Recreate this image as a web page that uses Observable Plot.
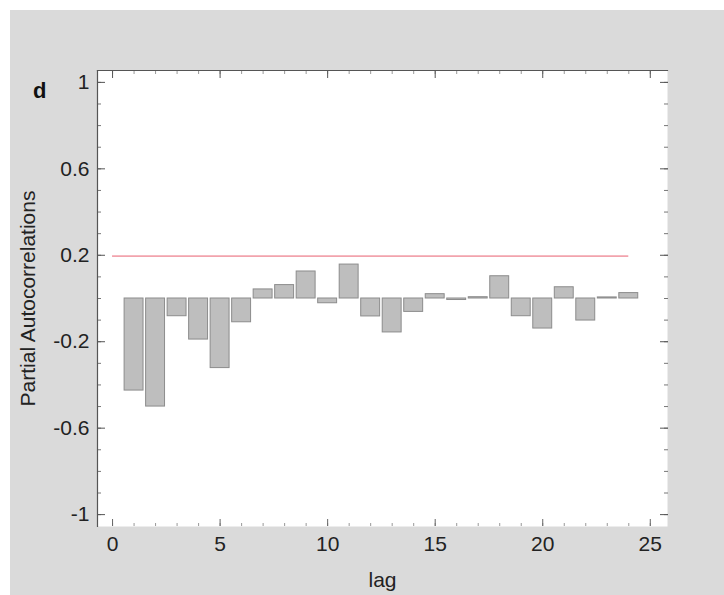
<!DOCTYPE html>
<html>
<head>
<meta charset="utf-8">
<script src="https://cdn.jsdelivr.net/npm/d3@7"></script>
<script src="https://cdn.jsdelivr.net/npm/@observablehq/plot@0.6"></script>
<style>
  html, body { margin: 0; padding: 0; background: #ffffff; }
  #wrap { position: absolute; left: 10px; top: 10px; width: 714px; height: 585px; background: #dadada; }
  #panel { position: absolute; left: 23px; top: 70px; font: bold 22px "Liberation Sans", Arial, sans-serif; color: #111; line-height: 1; }
</style>
</head>
<body>
<div id="wrap"><div id="panel">d</div></div>
<script>
// Data
const lags = [1, 2, 3, 4, 5, 6, 7, 8, 9, 10, 11, 12, 13, 14, 15, 16, 17, 18, 19, 20, 21, 22, 23, 24];
const pacf = [-0.426, -0.50, -0.082, -0.19, -0.322, -0.11, 0.042, 0.062, 0.125, -0.022, 0.157, -0.083,
              -0.157, -0.062, 0.02, -0.007, 0.006, 0.103, -0.082, -0.139, 0.052, -0.102, 0.005, 0.025];
const ciLevel = 0.196;
const ciFromLag = 0;
const ciToLag = 24;
const xTicks = [0, 5, 10, 15, 20, 25];
const yTicks = [-1, -0.6, -0.2, 0.2, 0.6, 1];
const yMinorTicks = d3.range(-10, 11).map(i => i / 10);
const xMinorTicks = d3.range(0, 26);

const data = lags.map((lag, i) => ({lag, value: pacf[i]}));
const halfWidth = 0.44;

const chart = Plot.plot({
  width: 714,
  height: 585,
  marginLeft: 87,
  marginRight: 57,
  marginTop: 60,
  marginBottom: 69,
  style: {background: "transparent", fontFamily: "'Liberation Sans', Arial, sans-serif", fontSize: "21px", color: "#222"},
  x: {domain: [-0.7, 25.8]},
  y: {domain: [-1.055, 1.055]},
  marks: [
    Plot.frame({fill: "white", stroke: "none"}),
    Plot.rect(data, {
      x1: d => d.lag - halfWidth,
      x2: d => d.lag + halfWidth,
      y1: 0,
      y2: "value",
      fill: "#bebebe",
      stroke: "#8c8c8c",
      strokeWidth: 1
    }),
    Plot.ruleY([ciLevel], {x1: ciFromLag, x2: ciToLag, stroke: "#f2a3ad", strokeWidth: 1.6}),
    // inward minor ticks
    Plot.axisY(yMinorTicks, {anchor: "left", tickSize: -4, fill: "none", label: null, stroke: "#777"}),
    Plot.axisY(yMinorTicks, {anchor: "right", tickSize: -4, fill: "none", label: null, stroke: "#777"}),
    Plot.axisY(yTicks, {anchor: "left", tickSize: -8, fill: "none", label: null, stroke: "#555"}),
    Plot.axisY(yTicks, {anchor: "right", tickSize: -8, fill: "none", label: null, stroke: "#555"}),
    Plot.axisX(xMinorTicks, {anchor: "bottom", tickSize: -3, fill: "none", label: null, stroke: "#999"}),
    Plot.axisX(xMinorTicks, {anchor: "top", tickSize: -3, fill: "none", label: null, stroke: "#999"}),
    Plot.axisX(xTicks, {anchor: "bottom", tickSize: -7, fill: "none", label: null, stroke: "#666"}),
    Plot.axisX(xTicks, {anchor: "top", tickSize: -7, fill: "none", label: null, stroke: "#555"}),
    // labels
    Plot.axisY(yTicks, {anchor: "left", tickSize: 0, tickPadding: 8, tickFormat: d => String(d),
      label: "Partial Autocorrelations", labelAnchor: "center", labelOffset: 77, labelArrow: "none"}),
    Plot.axisX(xTicks, {anchor: "bottom", tickSize: 0, tickPadding: 10, tickFormat: d => String(d),
      label: "lag", labelAnchor: "center", labelOffset: 60, labelArrow: "none"}),
    Plot.frame({anchor: "left", stroke: "#555", strokeWidth: 1.2}),
    Plot.frame({anchor: "top", stroke: "#555", strokeWidth: 1.2})
  ]
});
document.getElementById("wrap").appendChild(chart);
</script>
</body>
</html>
